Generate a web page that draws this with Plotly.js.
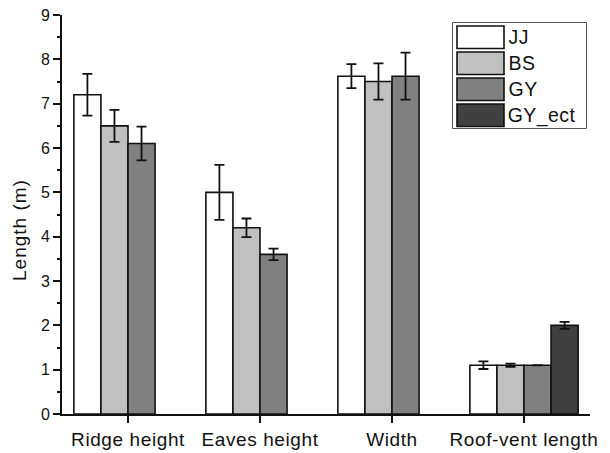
<!DOCTYPE html>
<html>
<head>
<meta charset="utf-8">
<script src="https://cdn.plot.ly/plotly-3.0.1.min.js"></script>
<style>
html,body{margin:0;padding:0;background:#fff;}
#chart{width:610px;height:453px;}
#chart .xtick text{letter-spacing:0.6px;}
#chart .annotation-text{letter-spacing:0.4px;}
#chart .ytitle-ann .annotation-text{letter-spacing:1px;}
</style>
</head>
<body>
<div id="chart"></div>
<script>
// ---- data ----
const categories = ["Ridge height", "Eaves height", "Width", "Roof-vent length"];
const seriesNames = ["JJ", "BS", "GY", "GY_ect"];
const jjValues   = [7.2, 5.0, 7.62, 1.1];
const jjErrors   = [0.47, 0.62, 0.27, 0.085];
const bsValues   = [6.5, 4.2, 7.5, 1.1];
const bsErrors   = [0.36, 0.21, 0.41, 0.035];
const gyValues   = [6.1, 3.6, 7.62, 1.1];
const gyErrors   = [0.38, 0.13, 0.53, null];
const ectValues  = [null, null, null, 2.0];
const ectErrors  = [null, null, null, 0.08];
const seriesColors = ["#ffffff", "#c0c0c0", "#808080", "#404040"];
const yTitle = "Length (m)";

const FONT = "Liberation Sans, Arial, sans-serif";
const values = [jjValues, bsValues, gyValues, ectValues];
const errors = [jjErrors, bsErrors, gyErrors, ectErrors];

const traces = seriesNames.map((name, i) => ({
  type: "bar",
  name: name,
  x: categories,
  y: values[i],
  marker: {color: seriesColors[i], line: {color: "#111", width: 1.6}},
  error_y: {type: "data", array: errors[i], visible: true, color: "#111", thickness: 1.8, width: 5},
  showlegend: false,
  hoverinfo: "x+y"
}));

// plot area in pixels
const L = 62, R = 590, T = 15, B = 414;
const W = 610, H = 453;
const px = x => (x - L) / (R - L);
const py = y => (B - y) / (B - T);

// custom legend (box + swatches + labels)
const shapes = [{
  type: "rect", xref: "paper", yref: "paper",
  x0: px(452.5), x1: px(586.5), y0: py(128.5), y1: py(22.5),
  line: {color: "#555", width: 1}, fillcolor: "#fff", layer: "above"
}];
const annotations = [];
const rowTop = [26, 52, 78, 104];
seriesNames.forEach((name, i) => {
  shapes.push({
    type: "rect", xref: "paper", yref: "paper",
    x0: px(457), x1: px(504), y0: py(rowTop[i] + 22.5), y1: py(rowTop[i]),
    line: {color: "#111", width: 1.6}, fillcolor: seriesColors[i], layer: "above"
  });
  annotations.push({
    xref: "paper", yref: "paper", x: px(507), y: py(rowTop[i] + 11.5),
    xanchor: "left", yanchor: "middle", showarrow: false,
    text: name, font: {family: FONT, size: 19.5, color: "#111"}
  });
});
// y-axis title (placed like the reference, slightly below the axis middle)
annotations.push({
  xref: "paper", yref: "paper", x: px(19), y: py(230),
  xanchor: "center", yanchor: "middle", textangle: -90, showarrow: false,
  text: yTitle, font: {family: FONT, size: 19, color: "#111"}
});

const layout = {
  width: W, height: H,
  margin: {l: L, r: W - R, t: T, b: H - B, pad: 0},
  paper_bgcolor: "#fff", plot_bgcolor: "#fff",
  barmode: "group", bargap: 0.18, bargroupgap: 0,
  font: {family: FONT, color: "#111"},
  xaxis: {
    type: "category", range: [-0.5, 3.5],
    showline: true, linecolor: "#111", linewidth: 1.6,
    ticks: "outside", ticklen: 7, tickwidth: 1.6, tickcolor: "#111",
    tickfont: {family: FONT, size: 19, color: "#111"},
    showgrid: false, zeroline: false, fixedrange: true
  },
  yaxis: {
    range: [0, 9], dtick: 1, tick0: 0,
    showline: true, linecolor: "#111", linewidth: 1.6,
    ticks: "outside", ticklen: 7, tickwidth: 1.6, tickcolor: "#111",
    tickfont: {family: FONT, size: 16, color: "#111"},
    minor: {dtick: 0.5, ticks: "outside", ticklen: 3.5, tickwidth: 1.6, tickcolor: "#111", showgrid: false},
    showgrid: false, zeroline: false, fixedrange: true
  },
  shapes: shapes,
  annotations: annotations,
  showlegend: false
};

Plotly.newPlot("chart", traces, layout, {displayModeBar: false}).then(gd => {
  // wider tracking on the rotated y title, as in the reference
  const anns = gd.querySelectorAll(".annotation");
  const last = anns[anns.length - 1];
  if (last) { const t = last.querySelector(".annotation-text"); if (t) t.style.letterSpacing = "1px"; }
});
</script>
</body>
</html>
